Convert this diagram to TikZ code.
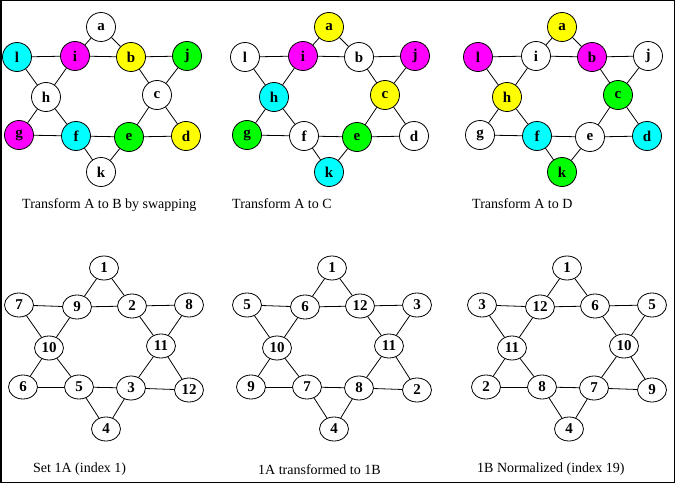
\documentclass[tikz,border=0pt]{standalone}
\usepackage{fontspec}
\setmainfont{Liberation Serif}
\usetikzlibrary{shapes.geometric}
\definecolor{cy}{RGB}{0,255,255}
\definecolor{mg}{RGB}{255,0,255}
\definecolor{yl}{RGB}{255,255,0}
\definecolor{gr}{RGB}{0,255,0}
\begin{document}
\begin{tikzpicture}[x=1pt,y=-1pt,
    letter/.style={circle,draw,fill=white,line width=0.8pt,minimum size=29pt,inner sep=0pt,font=\fontsize{15}{15}\selectfont\bfseries},
    number/.style={ellipse,draw,fill=white,line width=0.8pt,minimum width=29pt,minimum height=24pt,inner sep=0pt,font=\fontsize{15}{15}\selectfont\bfseries},
    caption/.style={anchor=base west,inner sep=0pt,font=\fontsize{14}{14}\selectfont},
    link/.style={line width=0.8pt}]
  \useasboundingbox (0,0) rectangle (679,484);
  \draw[line width=1.5pt] (0.75,0.75) rectangle (674.5,482.5);

  % swap A to B
  \begin{scope}[xshift=0pt]
    \node[letter] (p1a) at (101,27) {a};
    \node[letter,fill=cy] (p1l) at (17,57) {l};
    \node[letter,fill=mg] (p1i) at (75,56) {i};
    \node[letter,fill=yl] (p1b) at (131,57) {b};
    \node[letter,fill=gr] (p1j) at (187,56) {j};
    \node[letter] (p1h) at (46,97) {h};
    \node[letter] (p1c) at (157,95) {c};
    \node[letter,fill=mg] (p1g) at (19,135) {g};
    \node[letter,fill=cy] (p1f) at (76,136) {f};
    \node[letter,fill=gr] (p1e) at (129,137) {e};
    \node[letter,fill=yl] (p1d) at (186,136) {d};
    \node[letter] (p1k) at (101,172) {k};
    \foreach \u/\v in {a/i,a/b,l/i,i/b,b/j,l/h,i/h,b/c,j/c,h/g,h/f,c/e,c/d,g/f,f/e,e/d,f/k,e/k}
      \draw[link] (p1\u) -- (p1\v);
    \node[caption] (cap1) at (22,208) {Transform A to B by swapping};
  \end{scope}

  % A to C
  \begin{scope}[xshift=228pt]
    \node[letter,fill=yl] (p2a) at (101,27) {a};
    \node[letter] (p2l) at (17,57) {l};
    \node[letter,fill=mg] (p2i) at (75,56) {i};
    \node[letter] (p2b) at (131,57) {b};
    \node[letter,fill=mg] (p2j) at (187,56) {j};
    \node[letter,fill=cy] (p2h) at (46,97) {h};
    \node[letter,fill=yl] (p2c) at (157,95) {c};
    \node[letter,fill=gr] (p2g) at (19,135) {g};
    \node[letter] (p2f) at (76,136) {f};
    \node[letter,fill=gr] (p2e) at (129,137) {e};
    \node[letter] (p2d) at (186,136) {d};
    \node[letter,fill=cy] (p2k) at (101,172) {k};
    \foreach \u/\v in {a/i,a/b,l/i,i/b,b/j,l/h,i/h,b/c,j/c,h/g,h/f,c/e,c/d,g/f,f/e,e/d,f/k,e/k}
      \draw[link] (p2\u) -- (p2\v);
    \node[caption] (cap2) at (4,208) {Transform A to C};
  \end{scope}

  % A to D
  \begin{scope}[xshift=461pt]
    \node[letter,fill=yl] (p3a) at (101,27) {a};
    \node[letter,fill=mg] (p3l) at (17,57) {l};
    \node[letter] (p3i) at (75,56) {i};
    \node[letter,fill=mg] (p3b) at (131,57) {b};
    \node[letter] (p3j) at (187,56) {j};
    \node[letter,fill=yl] (p3h) at (46,97) {h};
    \node[letter,fill=gr] (p3c) at (157,95) {c};
    \node[letter] (p3g) at (19,135) {g};
    \node[letter,fill=cy] (p3f) at (76,136) {f};
    \node[letter] (p3e) at (129,137) {e};
    \node[letter,fill=cy] (p3d) at (186,136) {d};
    \node[letter,fill=gr] (p3k) at (101,172) {k};
    \foreach \u/\v in {a/i,a/b,l/i,i/b,b/j,l/h,i/h,b/c,j/c,h/g,h/f,c/e,c/d,g/f,f/e,e/d,f/k,e/k}
      \draw[link] (p3\u) -- (p3\v);
    \node[caption] (cap3) at (11,208) {Transform A to D};
  \end{scope}

  % set 1A
  \begin{scope}[xshift=0pt]
    \node[number] (p4a) at (104,268) {1};
    \node[number] (p4l) at (19,305) {7};
    \node[number] (p4i) at (77,307) {9};
    \node[number] (p4b) at (132,306) {2};
    \node[number] (p4j) at (189,305) {8};
    \node[number] (p4h) at (49,348) {10};
    \node[number] (p4c) at (161,346) {11};
    \node[number] (p4g) at (23,387) {6};
    \node[number] (p4f) at (79,387) {5};
    \node[number] (p4e) at (131,388) {3};
    \node[number] (p4d) at (189,390) {12};
    \node[number] (p4k) at (106,429) {4};
    \foreach \u/\v in {a/i,a/b,l/i,i/b,b/j,l/h,i/h,b/c,j/c,h/g,h/f,c/e,c/d,g/f,f/e,e/d,f/k,e/k}
      \draw[link] (p4\u) -- (p4\v);
    \node[caption] (cap4) at (33,472) {Set 1A (index 1)};
  \end{scope}

  % 1A to 1B
  \begin{scope}[xshift=228pt]
    \node[number] (p5a) at (104,268) {1};
    \node[number] (p5l) at (19,305) {5};
    \node[number] (p5i) at (77,307) {6};
    \node[number] (p5b) at (132,306) {12};
    \node[number] (p5j) at (189,305) {3};
    \node[number] (p5h) at (49,348) {10};
    \node[number] (p5c) at (161,346) {11};
    \node[number] (p5g) at (23,387) {9};
    \node[number] (p5f) at (79,387) {7};
    \node[number] (p5e) at (131,388) {8};
    \node[number] (p5d) at (189,390) {2};
    \node[number] (p5k) at (106,429) {4};
    \foreach \u/\v in {a/i,a/b,l/i,i/b,b/j,l/h,i/h,b/c,j/c,h/g,h/f,c/e,c/d,g/f,f/e,e/d,f/k,e/k}
      \draw[link] (p5\u) -- (p5\v);
    \node[caption] (cap5) at (30,474) {1A transformed to 1B};
  \end{scope}

  % 1B normalized
  \begin{scope}[xshift=463pt]
    \node[number] (p6a) at (104,268) {1};
    \node[number] (p6l) at (19,305) {3};
    \node[number] (p6i) at (77,307) {12};
    \node[number] (p6b) at (132,306) {6};
    \node[number] (p6j) at (189,305) {5};
    \node[number] (p6h) at (49,348) {11};
    \node[number] (p6c) at (161,346) {10};
    \node[number] (p6g) at (23,387) {2};
    \node[number] (p6f) at (79,387) {8};
    \node[number] (p6e) at (131,388) {7};
    \node[number] (p6d) at (189,390) {9};
    \node[number] (p6k) at (106,429) {4};
    \foreach \u/\v in {a/i,a/b,l/i,i/b,b/j,l/h,i/h,b/c,j/c,h/g,h/f,c/e,c/d,g/f,f/e,e/d,f/k,e/k}
      \draw[link] (p6\u) -- (p6\v);
    \node[caption] (cap6) at (14,472) {1B Normalized (index 19)};
  \end{scope}
\end{tikzpicture}
\end{document}
